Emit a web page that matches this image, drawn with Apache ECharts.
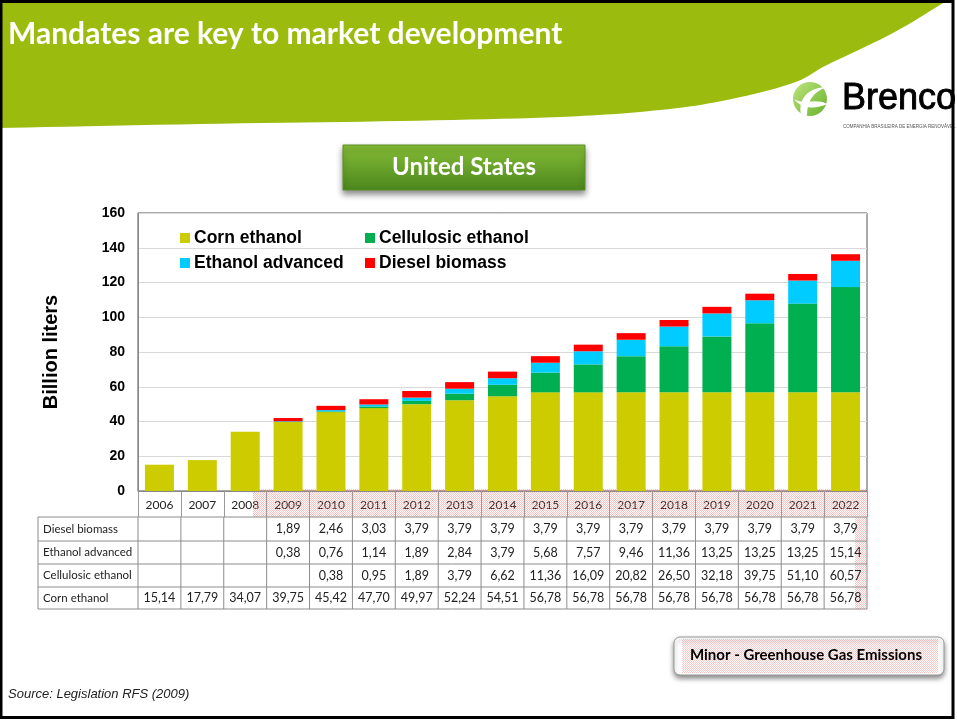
<!DOCTYPE html>
<html>
<head>
<meta charset="utf-8">
<title>Mandates are key to market development</title>
<script src="https://cdn.jsdelivr.net/npm/echarts@6/dist/echarts.min.js"></script>
<style>
  html, body { margin: 0; padding: 0; background: #fff; }
  #chart { width: 957px; height: 720px; }
</style>
</head>
<body>
<div id="chart"></div>
<script>
var years = ['2006', '2007', '2008', '2009', '2010', '2011', '2012', '2013', '2014',
  '2015', '2016', '2017', '2018', '2019', '2020', '2021', '2022'];
var cornEthanol = [15.14, 17.79, 34.07, 39.75, 45.42, 47.70, 49.97, 52.24, 54.51,
  56.78, 56.78, 56.78, 56.78, 56.78, 56.78, 56.78, 56.78];
var cellulosicEthanol = [null, null, null, null, 0.38, 0.95, 1.89, 3.79, 6.62,
  11.36, 16.09, 20.82, 26.50, 32.18, 39.75, 51.10, 60.57];
var ethanolAdvanced = [null, null, null, 0.38, 0.76, 1.14, 1.89, 2.84, 3.79,
  5.68, 7.57, 9.46, 11.36, 13.25, 13.25, 13.25, 15.14];
var dieselBiomass = [null, null, null, 1.89, 2.46, 3.03, 3.79, 3.79, 3.79,
  3.79, 3.79, 3.79, 3.79, 3.79, 3.79, 3.79, 3.79];

// table rows, top to bottom, as on the slide
var tableRows = [
  { name: 'Diesel biomass', values: dieselBiomass },
  { name: 'Ethanol advanced', values: ethanolAdvanced },
  { name: 'Cellulosic ethanol', values: cellulosicEthanol },
  { name: 'Corn ethanol', values: cornEthanol }
];

var myChart = echarts.init(document.getElementById('chart'));

var boldArial = 'Liberation Sans, Arial, sans-serif';
var calibriLike = 'Lato, Noto Sans, sans-serif';

function fmt(v) {
  return v == null ? '' : v.toFixed(2).replace('.', ',');
}

// little pink dotted pattern (the selection hatch on the slide)
function dots(color) {
  var c = document.createElement('canvas');
  c.width = 2; c.height = 2;
  var g = c.getContext('2d');
  g.fillStyle = color;
  g.fillRect(0, 0, 1, 1);
  g.fillRect(1, 1, 1, 1);
  return { image: c, repeat: 'repeat' };
}

// sample a cubic curve into polygon points (slide shapes only)
function curve(p0, p1, p2, p3, n) {
  var pts = [];
  for (var i = 0; i <= n; i++) {
    var t = i / n, u = 1 - t;
    pts.push([
      u * u * u * p0[0] + 3 * u * u * t * p1[0] + 3 * u * t * t * p2[0] + t * t * t * p3[0],
      u * u * u * p0[1] + 3 * u * u * t * p1[1] + 3 * u * t * t * p2[1] + t * t * t * p3[1]
    ]);
  }
  return pts;
}

// smooth line through a few traced points of the header edge
function smoothThrough(p) {
  var out = [];
  for (var i = 0; i < p.length - 1; i++) {
    var a = p[i - 1] || p[i], b = p[i], c = p[i + 1], d = p[i + 2] || p[i + 1];
    var c1 = [b[0] + (c[0] - a[0]) / 6, b[1] + (c[1] - a[1]) / 6];
    var c2 = [c[0] - (d[0] - b[0]) / 6, c[1] - (d[1] - b[1]) / 6];
    out = out.concat(curve(b, c1, c2, c, 10));
  }
  return out;
}

var legendBase = {
  padding: 0,
  icon: 'rect',
  itemWidth: 10,
  itemHeight: 10,
  selectedMode: false,
  textStyle: { fontFamily: boldArial, fontWeight: 'bold', fontSize: 17.5, color: '#000', padding: [0, 0, 0, -1] }
};

var option = {
  animation: false,
  backgroundColor: '#fff',
  legend: [
    Object.assign({ data: ['Corn ethanol'], left: 180, top: 229 }, legendBase),
    Object.assign({ data: ['Cellulosic ethanol'], left: 365, top: 229 }, legendBase),
    Object.assign({ data: ['Ethanol advanced'], left: 180, top: 254 }, legendBase),
    Object.assign({ data: ['Diesel biomass'], left: 365, top: 254 }, legendBase)
  ],
  grid: {
    show: true,
    left: 138,
    top: 213,
    width: 729,
    height: 278,
    borderColor: '#555',
    borderWidth: 1
  },
  xAxis: {
    type: 'category',
    data: years,
    axisLine: { lineStyle: { color: '#888' } },
    axisTick: { show: true, interval: 0, length: 26, lineStyle: { color: '#999' } },
    axisLabel: { interval: 0, margin: 8, fontFamily: calibriLike, fontSize: 12, color: '#222' }
  },
  yAxis: {
    type: 'value',
    min: 0,
    max: 160,
    interval: 20,
    name: 'Billion liters',
    nameLocation: 'middle',
    nameGap: 77,
    nameRotate: 90,
    nameTextStyle: { fontFamily: boldArial, fontWeight: 'bold', fontSize: 20, color: '#000' },
    axisLine: { show: true, lineStyle: { color: '#888' } },
    axisTick: { show: false },
    axisLabel: { margin: 13, fontFamily: boldArial, fontWeight: 'bold', fontSize: 14, color: '#000' },
    splitLine: { lineStyle: { color: '#d9d9d9' } }
  },
  series: [
    { name: 'Corn ethanol', type: 'bar', stack: 'total', barWidth: 29, data: cornEthanol, itemStyle: { color: '#cccc00' } },
    { name: 'Cellulosic ethanol', type: 'bar', stack: 'total', barWidth: 29, data: cellulosicEthanol, itemStyle: { color: '#00b050' } },
    { name: 'Ethanol advanced', type: 'bar', stack: 'total', barWidth: 29, data: ethanolAdvanced, itemStyle: { color: '#00ccff' } },
    { name: 'Diesel biomass', type: 'bar', stack: 'total', barWidth: 29, data: dieselBiomass, itemStyle: { color: '#ff0000' } }
  ]
};

myChart.setOption(option);

// slide decorations + data table, placed from the x axis columns
function buildGraphics() {
  var g = [];
  var centers = years.map(function (y) { return myChart.convertToPixel({ xAxisIndex: 0 }, y); });
  var cw = centers[1] - centers[0];
  var x0 = centers[0] - cw / 2;
  var x1 = centers[centers.length - 1] + cw / 2;
  var labelLeft = 38;
  var rowY = [517, 541, 564, 587, 609];

  // header
  var edge = smoothThrough([[948, 0], [893, 33], [827, 65], [793, 83], [727, 100], [660, 110],
    [560, 117], [400, 121], [200, 124], [0, 128]]);
  g.push({ type: 'polygon', z: 0, shape: { points: [[0, 0]].concat(edge) }, style: { fill: '#9bbc0f' } });
  g.push({ type: 'text', z: 5, style: { x: 8, y: 34, text: 'Mandates are key to market development', fill: '#fff',
    font: 'bold 30px ' + calibriLike, textVerticalAlign: 'middle' } });

  // logo
  g.push({ type: 'circle', z: 5, shape: { cx: 810, cy: 99, r: 17 },
    style: { fill: new echarts.graphic.LinearGradient(0, 0, 1, 1, [{ offset: 0, color: '#bfe47e' }, { offset: 1, color: '#66b22c' }]) } });
  var leaf1 = curve([801, 115], [798, 102], [805, 88], [826, 87], 16).concat(curve([826, 87], [812, 93], [807, 102], [807, 116], 16));
  var leaf2 = curve([794, 99], [803, 105], [817, 98], [827, 104], 16).concat(curve([827, 104], [819, 108], [803, 111], [794, 99], 16));
  g.push({ type: 'polygon', z: 6, shape: { points: leaf1 }, style: { fill: '#fff' } });
  g.push({ type: 'polygon', z: 6, shape: { points: leaf2 }, style: { fill: '#fff' } });
  g.push({ type: 'text', z: 5, style: { x: 842, y: 99, text: 'Brenco', fill: '#000', stroke: '#000', lineWidth: 0.9,
    font: '36px Liberation Sans, Arial, sans-serif', textVerticalAlign: 'middle' } });
  g.push({ type: 'text', z: 5, style: { x: 843, y: 127, text: 'COMPANHIA BRASILEIRA DE ENERGIA RENOVÁVEL', fill: '#555', font: '4.5px Liberation Sans, Arial, sans-serif', textVerticalAlign: 'middle' } });

  // button
  g.push({ type: 'rect', z: 5, shape: { x: 343, y: 145, width: 242, height: 45 },
    style: { fill: new echarts.graphic.LinearGradient(0, 0, 0, 1, [{ offset: 0, color: '#86bd36' }, { offset: 1, color: '#4b871d' }]),
      stroke: '#5a8f27', lineWidth: 1, shadowBlur: 6, shadowOffsetY: 4, shadowColor: 'rgba(0,0,0,0.45)' } });
  g.push({ type: 'text', z: 6, style: { x: 464, y: 167, text: 'United States', fill: '#fff', font: 'bold 24px ' + calibriLike,
    textAlign: 'center', textVerticalAlign: 'middle' } });

  // faint pink hatch over the year row
  var hatch = dots('rgba(240,120,120,0.45)');
  g.push({ type: 'rect', z: 1, shape: { x: 253, y: 489, width: x1 - 253, height: 28 }, style: { fill: hatch } });
  g.push({ type: 'rect', z: 1, shape: { x: x1 - 12, y: 517, width: 12, height: rowY[4] - 517 }, style: { fill: hatch } });

  // table lines
  var lc = '#8c8c8c';
  rowY.forEach(function (y) {
    g.push({ type: 'line', z: 3, shape: { x1: labelLeft, y1: y, x2: x1, y2: y }, style: { stroke: lc, lineWidth: 1 } });
  });
  g.push({ type: 'line', z: 3, shape: { x1: labelLeft, y1: rowY[0], x2: labelLeft, y2: rowY[4] }, style: { stroke: lc, lineWidth: 1 } });
  for (var i = 0; i <= years.length; i++) {
    var bx = x0 + i * cw;
    g.push({ type: 'line', z: 3, shape: { x1: bx, y1: rowY[0], x2: bx, y2: rowY[4] }, style: { stroke: lc, lineWidth: 1 } });
  }
  // table text
  tableRows.forEach(function (row, r) {
    var cy = (rowY[r] + rowY[r + 1]) / 2;
    g.push({ type: 'text', z: 4, style: { x: 43, y: cy, text: row.name, fill: '#222', font: '11.5px ' + calibriLike, textVerticalAlign: 'middle' } });
    row.values.forEach(function (v, k) {
      if (v == null) return;
      g.push({ type: 'text', z: 4, style: { x: centers[k], y: cy, text: fmt(v), fill: '#222', font: '12.5px ' + calibriLike,
        textAlign: 'center', textVerticalAlign: 'middle' } });
    });
  });

  // bottom box
  g.push({ type: 'rect', z: 5, shape: { x: 674, y: 637, width: 270, height: 38, r: 6 },
    style: { fill: '#fff', stroke: '#999', lineWidth: 1, shadowBlur: 5, shadowOffsetY: 3, shadowColor: 'rgba(0,0,0,0.45)' } });
  g.push({ type: 'rect', z: 6, shape: { x: 682, y: 639, width: 256, height: 34 }, style: { fill: dots('rgba(240,120,120,0.4)') } });
  g.push({ type: 'text', z: 7, style: { x: 806, y: 655, text: 'Minor - Greenhouse Gas Emissions', fill: '#000', font: 'bold 15px ' + calibriLike,
    textAlign: 'center', textVerticalAlign: 'middle' } });

  // source
  g.push({ type: 'text', z: 5, style: { x: 8, y: 694, text: 'Source: Legislation RFS (2009)', fill: '#222',
    font: 'italic 13px Liberation Sans, Arial, sans-serif', textVerticalAlign: 'middle' } });

  // slide frame
  g.push({ type: 'rect', z: 20, shape: { x: 1, y: 1.5, width: 952, height: 716 }, style: { fill: 'none', stroke: '#000', lineWidth: 3 } });
  return g;
}

myChart.setOption({ graphic: buildGraphics() });
</script>
</body>
</html>
